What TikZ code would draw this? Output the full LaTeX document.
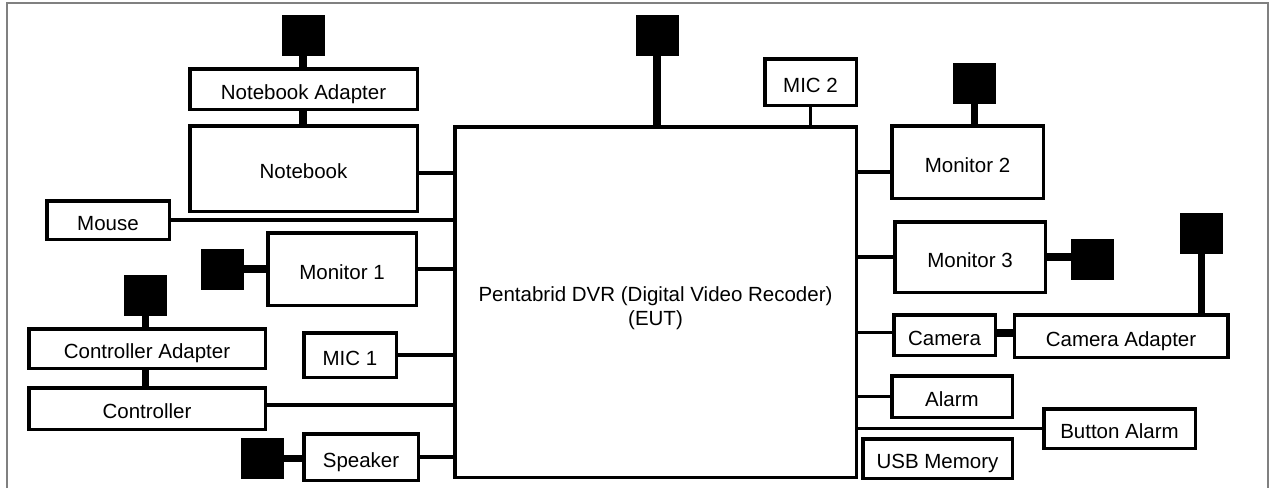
\documentclass[tikz,border=0pt]{standalone}
\usepackage{fontspec}
\setmainfont{Liberation Sans}
\usetikzlibrary{positioning}
\tikzstyle{unit} = [
    rectangle,
    draw=black,
    line width=3.5pt,
    fill=white,
    inner sep=0pt,
    text height=20pt,
    text depth=0pt,
    font=\fontsize{20.5}{24}\selectfont
]
\tikzstyle{eut} = [
    rectangle,
    draw=black,
    line width=3.5pt,
    fill=white,
    align=center,
    font=\fontsize{20.5}{24}\selectfont
]
\tikzstyle{plug} = [
    rectangle,
    fill=black,
    inner sep=0pt,
    minimum width=43pt,
    minimum height=41pt
]
\tikzstyle{wire} = [line width=3.5pt]
\tikzstyle{cord} = [line width=7.5pt]

\begin{document}
\begin{tikzpicture}[x=1pt, y=-1pt]

\useasboundingbox (0,0) rectangle (1271,488);
\draw [gray, line width=2pt] (7,488) -- (7,3) -- (1268,3) -- (1268,488);

\node (dvr) [eut, minimum width=401.5pt, minimum height=350.5pt] at (655.5,302)
{\rule{0pt}{28pt}Pentabrid DVR (Digital Video Recoder)\\(EUT)};

\node (nbadp) [unit, minimum width=227.5pt, minimum height=40.5pt] at (303.5,89) {Notebook Adapter};
\node (nb) [unit, minimum width=227.5pt, minimum height=85.5pt] at (303.5,168.5) {Notebook};
\node (mouse) [unit, minimum width=122.5pt, minimum height=38.5pt] at (108,220) {Mouse};
\node (mon1) [unit, minimum width=148.5pt, minimum height=72.5pt] at (342,269) {Monitor 1};
\node (ctladp) [unit, minimum width=236.5pt, minimum height=39.5pt] at (147,348.5) {Controller Adapter};
\node (ctl) [unit, minimum width=236.5pt, minimum height=41.5pt] at (147,408.5) {Controller};
\node (mic1) [unit, minimum width=92.5pt, minimum height=44.5pt] at (350,355) {MIC 1};
\node (spk) [unit, minimum width=114.5pt, minimum height=46.5pt] at (361,457) {Speaker};

\node (mic2) [unit, minimum width=91.5pt, minimum height=46.5pt] at (810.5,82) {MIC 2};
\node (mon2) [unit, minimum width=151.5pt, minimum height=72.5pt] at (967.5,162) {Monitor 2};
\node (mon3) [unit, minimum width=150.5pt, minimum height=70.5pt] at (970,257) {Monitor 3};
\node (cam) [unit, minimum width=101.5pt, minimum height=40.5pt] at (944.5,335) {Camera};
\node (camadp) [unit, minimum width=213.5pt, minimum height=42.5pt] at (1121,336) {Camera Adapter};
\node (alarm) [unit, minimum width=120.5pt, minimum height=41.5pt] at (952,396.5) {Alarm};
\node (btnalarm) [unit, minimum width=151.5pt, minimum height=39.5pt] at (1119.5,428.5) {Button Alarm};
\node (usb) [unit, minimum width=149.5pt, minimum height=39.5pt] at (937.5,458.5) {USB Memory};

\node (nbplug) [plug] at (303,35) {};
\node (dvrplug) [plug] at (657,35.5) {};
\node (mon2plug) [plug] at (974.5,83.5) {};
\node (mon1plug) [plug] at (222,269) {};
\node (ctlplug) [plug] at (145.5,295) {};
\node (spkplug) [plug] at (262.5,458.5) {};
\node (mon3plug) [plug] at (1092.5,259) {};
\node (camplug) [plug] at (1201.5,233) {};

\draw [wire] ([yshift=-4.5pt]nb.east) -- ([yshift=-4.5pt]nb.east -| dvr.west);
\draw [wire] (mouse.east) -- (mouse.east -| dvr.west);
\draw [wire] (mon1.east) -- (mon1.east -| dvr.west);
\draw [wire] (mic1.east) -- (mic1.east -| dvr.west);
\draw [wire] ([yshift=3.5pt]ctl.east) -- ([yshift=3.5pt]ctl.east -| dvr.west);
\draw [wire] (spk.east) -- (spk.east -| dvr.west);
\draw [wire] (mic2.south) -- (mic2.south |- dvr.north);
\draw [wire] ([yshift=-10pt]mon2.west -| dvr.east) -- ([yshift=-10pt]mon2.west);
\draw [wire] (mon3.west -| dvr.east) -- (mon3.west);
\draw [wire] ([yshift=2.5pt]cam.west -| dvr.east) -- ([yshift=2.5pt]cam.west);
\draw [wire] (alarm.west -| dvr.east) -- (alarm.west);
\draw [wire] (btnalarm.west -| dvr.east) -- (btnalarm.west);

\draw [cord] (nbplug.south) -- (nbplug.south |- nbadp.north);
\draw [cord] (nbplug.south |- nbadp.south) -- (nbplug.south |- nb.north);
\draw [cord] (dvrplug.south) -- (dvrplug.south |- dvr.north);
\draw [cord] (mon2plug.south) -- (mon2plug.south |- mon2.north);
\draw [cord] (mon1plug.east) -- (mon1plug.east -| mon1.west);
\draw [cord] (ctlplug.south) -- (ctlplug.south |- ctladp.north);
\draw [cord] (ctlplug.south |- ctladp.south) -- (ctlplug.south |- ctl.north);
\draw [cord] (spkplug.east) -- (spkplug.east -| spk.west);
\draw [cord] (mon3.east) -- (mon3.east -| mon3plug.west);
\draw [cord] (camplug.south) -- (camplug.south |- camadp.north);
\draw [cord] ([yshift=2pt]cam.east) -- ([yshift=2pt]cam.east -| camadp.west);

\end{tikzpicture}
\end{document}
